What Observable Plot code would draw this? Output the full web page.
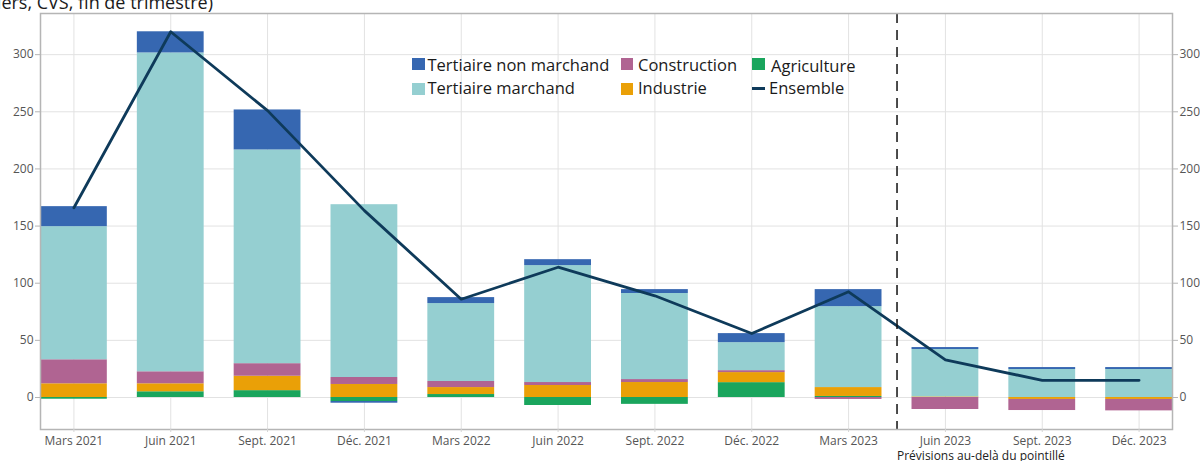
<!DOCTYPE html>
<html>
<head>
<meta charset="utf-8">
<script src="https://cdn.jsdelivr.net/npm/d3@7"></script>
<script src="https://cdn.jsdelivr.net/npm/@observablehq/plot@0.6"></script>
<style>
  body { margin: 0; background: #fff; font-family: "Open Sans", sans-serif; }
  #wrap { position: relative; width: 1200px; height: 461px; overflow: hidden; }
  #chart { position: absolute; left: 0; top: 0; }
  #title { position: absolute; left: 0; top: -7.5px; width: 213px; display: flex; justify-content: flex-end;
           font-size: 18px; line-height: 18px; color: #1a1a1a; white-space: nowrap; }
  #title span { flex-shrink: 0; }
  .lg-sw { position: absolute; width: 12.5px; height: 12.5px; }
  .lg-ln { position: absolute; width: 12.5px; height: 3px; }
  .lg-tx { position: absolute; font-size: 16.5px; line-height: 20px; color: #1a1a1a; white-space: nowrap; }
  #note { position: absolute; left: 897px; top: 450px; font-size: 12px; line-height: 12px; color: #222; white-space: nowrap; }
</style>
</head>
<body>
<div id="wrap">
  <div id="chart"></div>
  <div id="title"><span>(en milliers, CVS, fin de trimestre)</span></div>
  <div id="legend"></div>
  <div id="note">Prévisions au-delà du pointillé</div>
</div>
<script>
// ---- Data ----
const dates = ["Mars 2021", "Juin 2021", "Sept. 2021", "Déc. 2021", "Mars 2022", "Juin 2022",
               "Sept. 2022", "Déc. 2022", "Mars 2023", "Juin 2023", "Sept. 2023", "Déc. 2023"];
const seriesNames = ["Agriculture", "Industrie", "Construction", "Tertiaire marchand", "Tertiaire non marchand"];
const seriesColors = ["#1aa55d", "#eaa007", "#b06492", "#95cfd1", "#3667b1"];
const agriculture = [-1.5, 5, 6, -3.5, 2.6, -7, -6, 13, 0.9, 0, 0, 0];
const industrie = [12, 7, 12.6, 11.4, 6.1, 10.5, 13.1, 8.8, 7.8, 0.5, -1.7, -1.7];
const construction = [21, 10.5, 11, 6.1, 5.3, 2.6, 2.6, 1.7, -1.7, -10.5, -9.7, -10];
const tertiaireMarchand = [116.5, 279, 187, 151.2, 68.2, 102.3, 75.3, 24.5, 70.8, 41.5, 24.5, 24.5];
const tertiaireNonMarchand = [17.5, 18.5, 35, -1.5, 5.2, 5.2, 3.4, 7.9, 14.9, 1.7, 1.7, 1.7];
const ensemble = [166, 320, 251, 163.5, 86, 114, 89, 56, 92.5, 33, 15, 15];
const ensembleName = "Ensemble";
const ensembleColor = "#0e3a5a";
const yTicks = [0, 50, 100, 150, 200, 250, 300];
const forecastStart = "Juin 2023";

// ---- Build tables ----
const seriesValues = [agriculture, industrie, construction, tertiaireMarchand, tertiaireNonMarchand];
const barData = [];
seriesNames.forEach((s, k) => dates.forEach((d, i) => barData.push({date: d, serie: s, value: seriesValues[k][i]})));
const lineData = dates.map((d, i) => ({date: d, value: ensemble[i]}));

const chart = Plot.plot({
  width: 1200,
  height: 461,
  marginTop: 13,
  marginBottom: 32,
  marginLeft: 40,
  marginRight: 28,
  style: {fontFamily: '"Open Sans", sans-serif', fontSize: "12px", color: "#555", background: "transparent"},
  x: {domain: dates, paddingInner: 0.31, paddingOuter: 0, round: false, label: null},
  y: {domain: [-28, 336], label: null},
  color: {domain: seriesNames, range: seriesColors},
  marks: [
    Plot.gridY(yTicks, {stroke: "#e2e2e2", strokeOpacity: 1, strokeWidth: 1}),
    Plot.gridX({stroke: "#e2e2e2", strokeOpacity: 1, strokeWidth: 1}),
    Plot.barY(barData, {x: "date", y: "value", fill: "serie", order: seriesNames}),
    Plot.line(lineData, {x: "date", y: "value", stroke: ensembleColor, strokeWidth: 2.8}),
    Plot.ruleX([forecastStart], {dx: -48.4, stroke: "#111", strokeWidth: 1.5, strokeDasharray: "10,7"}),
    Plot.frame({stroke: "#b5b5b5", strokeWidth: 1.5}),
    Plot.axisY(yTicks, {anchor: "left", tickSize: 5, tickPadding: 2, stroke: "#b5b5b5", label: null}),
    Plot.axisY(yTicks, {anchor: "right", tickSize: 5, tickPadding: 2, stroke: "#b5b5b5", label: null}),
    Plot.axisX({tickSize: 3, tickPadding: 4, stroke: "#d5d5d5", label: null})
  ]
});
document.getElementById("chart").appendChild(chart);

// ---- Legend (HTML overlay) ----
const legendItems = [
  {label: "Tertiaire non marchand", color: seriesColors[4], kind: "sw", col: 0, row: 0},
  {label: "Construction", color: seriesColors[2], kind: "sw", col: 1, row: 0},
  {label: "Agriculture", color: seriesColors[0], kind: "sw", col: 2, row: 0},
  {label: "Tertiaire marchand", color: seriesColors[3], kind: "sw", col: 0, row: 1},
  {label: "Industrie", color: seriesColors[1], kind: "sw", col: 1, row: 1},
  {label: ensembleName, color: ensembleColor, kind: "ln", col: 2, row: 1}
];
const swX = [412, 620.5, 752], swY = [57.5, 82.5];
const txX = [[427.5, 638, 771], [427.5, 638, 769]];
const txTop = [[54.6, 54.6, 56], [77.6, 77.6, 77.6]];
const lg = document.getElementById("legend");
legendItems.forEach(it => {
  const sw = document.createElement("div");
  sw.className = it.kind === "sw" ? "lg-sw" : "lg-ln";
  sw.style.background = it.color;
  sw.style.left = swX[it.col] + "px";
  sw.style.top = (it.kind === "sw" ? swY[it.row] : swY[it.row] + 4.5) + "px";
  lg.appendChild(sw);
  const tx = document.createElement("div");
  tx.className = "lg-tx";
  tx.textContent = it.label;
  tx.style.left = txX[it.row][it.col] + "px";
  tx.style.top = txTop[it.row][it.col] + "px";
  lg.appendChild(tx);
});
</script>
</body>
</html>
